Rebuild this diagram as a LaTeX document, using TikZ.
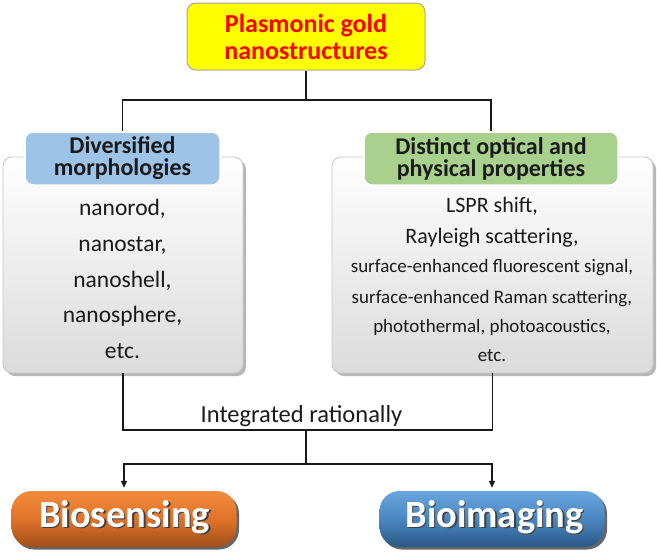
\documentclass[tikz,border=0pt]{standalone}
\usepackage{fontspec}
\setmainfont{Carlito}
\usetikzlibrary{shadows,arrows.meta}
\definecolor{ylw}{HTML}{FFFF00}
\definecolor{redtxt}{HTML}{FF0000}
\definecolor{hblue}{HTML}{9DC3E6}
\definecolor{hgreen}{HTML}{A9D18E}
\definecolor{txt}{HTML}{1A1A1A}
\definecolor{orgtop}{HTML}{F28B3C}
\definecolor{orgmid}{HTML}{E0732A}
\definecolor{orgbot}{HTML}{A04E18}
\definecolor{blutop}{HTML}{6AA6DE}
\definecolor{blumid}{HTML}{4A86C0}
\definecolor{blubot}{HTML}{2A5886}
\begin{document}
\begin{tikzpicture}[x=1pt,y=-1pt,
  topbox/.style={draw=gray!70, line width=1pt, fill=ylw, rounded corners=9pt,
    minimum width=238pt, minimum height=67pt, align=center, text=redtxt,
    font=\bfseries\fontsize{26}{27}\selectfont},
  graybox/.style={draw=gray!45, line width=0.8pt, rounded corners=9pt,
    top color=white, bottom color=gray!28,
    drop shadow={shadow xshift=3pt, shadow yshift=-3pt, fill=gray!80, opacity=0.7}},
  headbox/.style={draw=white, line width=1.5pt, rounded corners=8pt,
    minimum height=53pt, align=center, text=txt,
    font=\bfseries\fontsize{24}{22}\selectfont},
  itemL/.style={anchor=base, text=txt, font=\fontsize{23.5}{25}\selectfont},
  itemR/.style={anchor=base, text=txt, font=\fontsize{22}{24}\selectfont},
  itemS/.style={anchor=base, text=txt, font=\fontsize{19}{21}\selectfont},
  conn/.style={draw=black!90, line width=1.4pt},
  arr/.style={conn, -{Triangle[length=7pt,width=6pt]}, shorten >=3pt},
  button/.style={rounded corners=20pt, minimum width=225pt, minimum height=56pt,
    drop shadow={shadow xshift=2.5pt, shadow yshift=-2.5pt, fill=black!75, opacity=0.8}},
  btxt/.style={anchor=base, font=\bfseries\fontsize{38.5}{40}\selectfont}
]
\useasboundingbox (0,0) rectangle (657,552);

% top box
\node[topbox] (top) at (306,36.5) {Plasmonic gold\\nanostructures};

% gray boxes
\node[graybox, minimum width=240pt, minimum height=216pt] (lbox) at (123,265) {};
\node[graybox, minimum width=321pt, minimum height=216pt] (rbox) at (492.5,265) {};

% headers
\node[headbox, fill=hblue, minimum width=195pt] (lhead) at (122.5,158.5) {Diversified\\morphologies};
\node[headbox, fill=hgreen, minimum width=254pt] (rhead) at (491,158.5) {Distinct optical and\\physical properties};

% left items
\node[itemL] (l1) at (122.5,215) {nanorod,};
\node[itemL] (l2) at (122.5,251) {nanostar,};
\node[itemL] (l3) at (122.5,287) {nanoshell,};
\node[itemL] (l4) at (122.5,322) {nanosphere,};
\node[itemL] (l5) at (122.5,358) {etc.};

% right items
\node[itemR] (r1) at (492,212) {LSPR shift,};
\node[itemR] (r2) at (492,243) {Rayleigh scattering,};
\node[itemS] (r3) at (492,272) {surface-enhanced fluorescent signal,};
\node[itemS] (r4) at (492,303) {surface-enhanced Raman scattering,};
\node[itemS] (r5) at (492,332) {photothermal, photoacoustics,};
\node[itemS] (r6) at (492,361) {etc.};

% upper connectors
\coordinate (j1) at (306,100);
\draw[conn] (top.south) -- (j1);
\draw[conn] (lhead.north) |- (j1) -| (rhead.north);

% lower connectors
\coordinate (j2) at (306,430);
\coordinate (j3) at (306,464);
\draw[conn] (lbox.south) |- (j2) -| (rbox.south);
\draw[conn] (j2) -- (j3);

\node[anchor=base, text=txt, font=\fontsize{24.5}{26}\selectfont] (integ) at (301.5,422) {Integrated rationally};

% buttons
\node[button, top color=orgtop, bottom color=orgbot, middle color=orgmid] (bio1) at (124,519) {};
\node[button, top color=blutop, bottom color=blubot, middle color=blumid] (bio2) at (492,519) {};

\draw[arr] (j3) -| (bio1.north);
\draw[arr] (j3) -| (bio2.north);

\node[btxt, text=black!75] (b1s) at (126,528.5) {Biosensing};
\node[btxt, text=white] (b1) at (124.5,527) {Biosensing};
\node[btxt, text=black!75] (b2s) at (496,528.5) {Bioimaging};
\node[btxt, text=white] (b2) at (494.5,527) {Bioimaging};
\end{tikzpicture}
\end{document}
